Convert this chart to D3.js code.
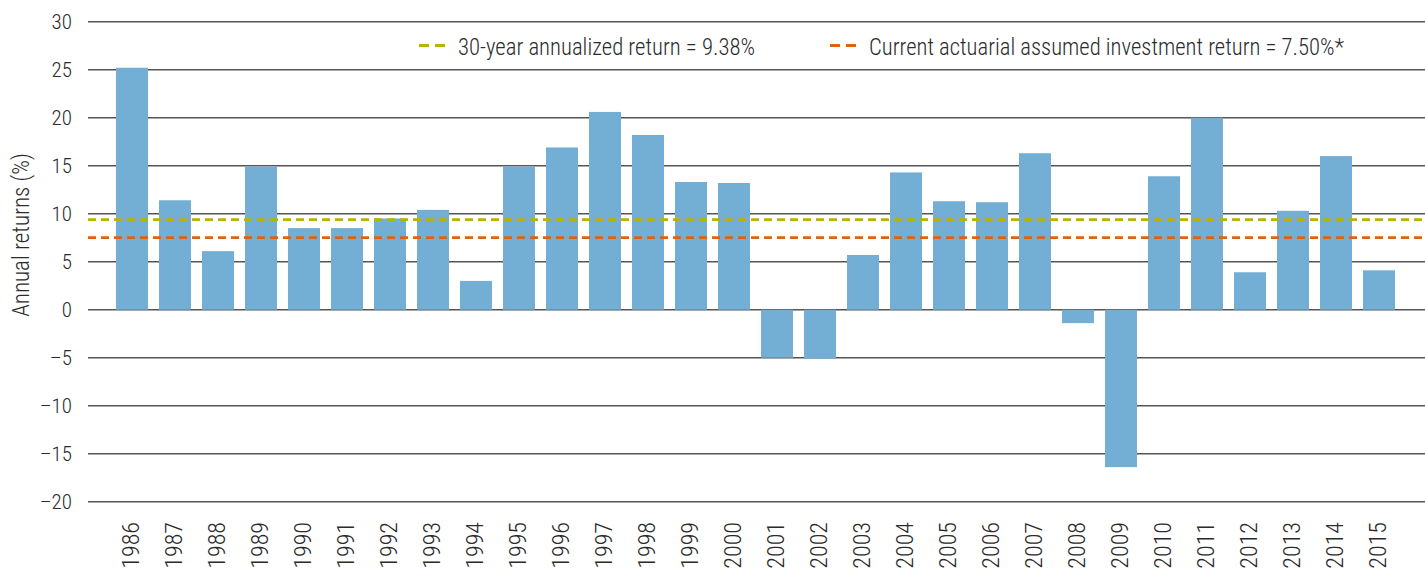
<!DOCTYPE html>
<html>
<head>
<meta charset="utf-8">
<script src="https://cdn.jsdelivr.net/npm/d3@7"></script>
<style>
  html, body { margin: 0; padding: 0; background: #fff; }
  svg { display: block; }
  text { font-family: "Roboto Condensed", "Liberation Sans Narrow", "DejaVu Sans Condensed", sans-serif; font-weight: 300; fill: #2b2b2b; }
</style>
</head>
<body>
<svg id="chart" width="1425" height="569"></svg>
<script>
// Annual returns by year, in percent
const years = [1986, 1987, 1988, 1989, 1990, 1991, 1992, 1993, 1994, 1995,
               1996, 1997, 1998, 1999, 2000, 2001, 2002, 2003, 2004, 2005,
               2006, 2007, 2008, 2009, 2010, 2011, 2012, 2013, 2014, 2015];
const annualReturns = [25.2, 11.4, 6.1, 14.9, 8.5, 8.5, 9.5, 10.4, 3.0, 14.9,
                       16.9, 20.6, 18.2, 13.3, 13.2, -5.0, -5.1, 5.7, 14.3, 11.3,
                       11.2, 16.3, -1.4, -16.4, 13.9, 20.0, 3.9, 10.3, 16.0, 4.1];

// Reference levels
const annualizedReturn = 9.38;
const assumedReturn = 7.50;

const yTicks = [-20, -15, -10, -5, 0, 5, 10, 15, 20, 25, 30];
const legendLabels = [
  "30-year annualized return = 9.38%",
  "Current actuarial assumed investment return = 7.50%*"
];

const svg = d3.select("#chart");

const gridLeft = 88, gridRight = 1425;

const x = d3.scaleBand()
  .domain(years)
  .range([110.5, 1400.5])
  .paddingInner(11 / 43)
  .paddingOuter(11 / 86);

const y = d3.scaleLinear()
  .domain([-20, 30])
  .range([501.7, 21.7]);

// Horizontal gridlines
svg.append("g")
  .selectAll("line")
  .data(yTicks)
  .join("line")
  .attr("x1", gridLeft)
  .attr("x2", gridRight)
  .attr("y1", d => y(d))
  .attr("y2", d => y(d))
  .attr("stroke", "#555")
  .attr("stroke-width", 1.5);

// Y tick labels
const fmt = d => d < 0 ? "\u2013" + Math.abs(d) : String(d);
svg.append("g")
  .selectAll("text")
  .data(yTicks)
  .join("text")
  .attr("x", 72)
  .attr("y", d => y(d))
  .attr("dy", "0.36em")
  .attr("text-anchor", "end")
  .attr("font-size", 21)
  .text(fmt);

// Y axis title
svg.append("text")
  .attr("transform", "translate(29,235) rotate(-90)")
  .attr("text-anchor", "middle")
  .attr("font-size", 23)
  .text("Annual returns (%)");

// Bars
svg.append("g")
  .selectAll("rect")
  .data(years.map((yr, i) => ({ yr, v: annualReturns[i] })))
  .join("rect")
  .attr("x", d => x(d.yr))
  .attr("width", x.bandwidth())
  .attr("y", d => y(Math.max(0, d.v)))
  .attr("height", d => Math.abs(y(d.v) - y(0)))
  .attr("fill", "#73aed4");

// Year labels, rotated
svg.append("g")
  .selectAll("text")
  .data(years)
  .join("text")
  .attr("transform", d => `translate(${x(d) + x.bandwidth() / 2 + 6.5},522) rotate(-90)`)
  .attr("text-anchor", "end")
  .attr("font-size", 24)
  .text(d => d);

// Dashed reference lines
const refLines = [
  { v: annualizedReturn, color: "#b9b200" },
  { v: assumedReturn, color: "#e0620e" }
];
svg.append("g")
  .selectAll("line")
  .data(refLines)
  .join("line")
  .attr("x1", gridLeft)
  .attr("x2", gridRight)
  .attr("y1", d => y(d.v))
  .attr("y2", d => y(d.v))
  .attr("stroke", d => d.color)
  .attr("stroke-width", 2.8)
  .attr("stroke-dasharray", "8,5");

// Legend
const legendItems = [
  { label: legendLabels[0], color: refLines[0].color, x: 419, tx: 458, w: 297 },
  { label: legendLabels[1], color: refLines[1].color, x: 830, tx: 869, w: 475 }
];
const lg = svg.append("g").selectAll("g").data(legendItems).join("g");
lg.append("line")
  .attr("x1", d => d.x)
  .attr("x2", d => d.x + 26)
  .attr("y1", 45.5)
  .attr("y2", 45.5)
  .attr("stroke", d => d.color)
  .attr("stroke-width", 2.8)
  .attr("stroke-dasharray", "10,6");
lg.append("text")
  .attr("x", d => d.tx)
  .attr("y", 55)
  .attr("font-size", 23)
  .attr("textLength", d => d.w)
  .attr("lengthAdjust", "spacingAndGlyphs")
  .text(d => d.label);
</script>
</body>
</html>
